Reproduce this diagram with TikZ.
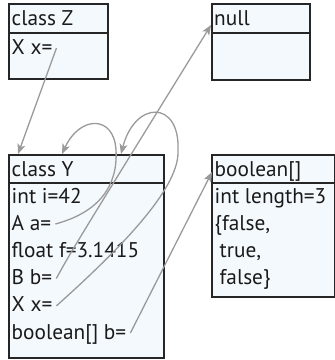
\documentclass[tikz,border=0pt]{standalone}
\usepackage{fontspec}
\setmainfont{PT Sans}
\usetikzlibrary{arrows.meta,calc}
\definecolor{boxfill}{HTML}{F4F9FE}
\definecolor{boxline}{HTML}{262626}
\definecolor{arrowgray}{HTML}{9A9A9A}
\definecolor{txtcol}{HTML}{1A1A1A}
\begin{document}
\begin{tikzpicture}[x=1pt,y=-1pt,
  box/.style={draw=boxline, fill=boxfill, line width=1.6pt, rectangle, anchor=north west, inner sep=0pt},
  divider/.style={draw=boxline, line width=1.6pt},
  txt/.style={anchor=base west, inner sep=0pt, font=\fontsize{21.3}{24}\selectfont, text=txtcol},
  ref/.style={draw=arrowgray, line width=1.3pt, -{Stealth[length=10pt,width=8pt,inset=2.5pt]}}
]
\useasboundingbox (0,0) rectangle (335,360);
% boxes
\node[box, minimum width=99pt, minimum height=75pt] (Z) at (8,3) {};
\node[box, minimum width=98pt, minimum height=76pt] (N) at (211,3) {};
\node[box, minimum width=155pt, minimum height=203pt] (Y) at (8,154) {};
\node[box, minimum width=123pt, minimum height=142pt] (B) at (211,154) {};
\draw[divider] (Z.west |- 0,33) -- (Z.east |- 0,33);
\draw[divider] (N.west |- 0,33) -- (N.east |- 0,33);
\draw[divider] (Y.west |- 0,183) -- (Y.east |- 0,183);
\draw[divider] (B.west |- 0,183) -- (B.east |- 0,183);
% texts
\node[txt] (zh) at (11.5,25) {class Z};
\node[txt] (zx) at (11.5,54) {X x=};
\node[txt] (nh) at (214,25) {null};
\node[txt] (yh) at (11.5,176) {class Y};
\node[txt] (yi) at (11.5,203) {int i=42};
\node[txt] (ya) at (11.5,230) {A a=};
\node[txt] (yf) at (11.5,257.3) {float f=3.1415};
\node[txt] (yb) at (11.5,284.5) {B b=};
\node[txt] (yx) at (11.5,311.8) {X x=};
\node[txt] (ybool) at (11.5,339) {boolean[] b=};
\node[txt] (bh) at (214.5,176) {boolean[]};
\node[txt] (bl) at (214.5,203) {int length=3};
\node[txt] (b1) at (214.5,230) {\{false,};
\node[txt] (b2) at (214.5,257.3) {\hspace{5pt}true,};
\node[txt] (b3) at (214.5,284.5) {\hspace{5pt}false\}};
% connectors
\draw[ref] ([shift={(4pt,6pt)}]zx.base east) -- ($(Y.north west)+(10,0)$);
\draw[ref] ([shift={(4pt,6pt)}]ya.base east) .. controls (100,212) and (118,185) .. (116,150)
  .. controls (114,115) and (80,115) .. ($(Y.north west)+(54,0)$);
\draw[ref] ([shift={(4pt,6pt)}]yb.base east) .. controls (72,250) .. ($(N.north west)+(0,22)$);
\draw[ref] ([shift={(4pt,6pt)}]yx.base east) .. controls (130,240) and (180,185) .. (178,150)
  .. controls (180,100) and (135,100) .. ($(Y.north west)+(113,0)$);
\draw[ref] ([shift={(4pt,6pt)}]ybool.base east) -- ($(B.north west)+(1,18)$);
\end{tikzpicture}
\end{document}
